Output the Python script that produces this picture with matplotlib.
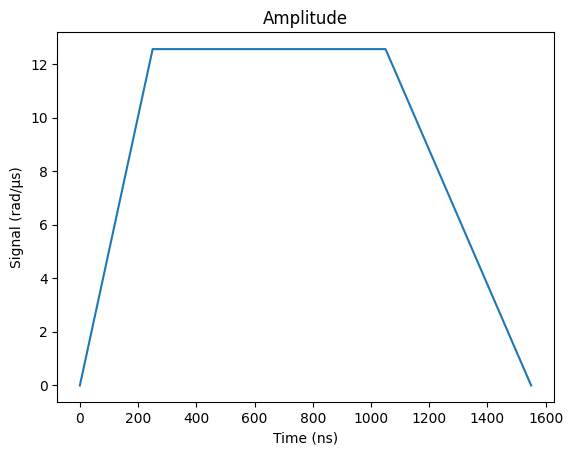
import numpy as np
import matplotlib
matplotlib.use("Agg")
import matplotlib.pyplot as plt

times = [0, 250, 1050, 1550]
amplitude = [0, 4 * np.pi, 4 * np.pi, 0]

fig = plt.figure(figsize=(5.72, 4.55), dpi=100)
ax = fig.add_axes([57.3 / 572, (455 - 402.3) / 455, (553.7 - 57.3) / 572, (402.3 - 32.3) / 455])
ax.plot(times, amplitude)
ax.set_title("Amplitude")
ax.set_xlabel("Time (ns)")
ax.set_ylabel("Signal (rad/µs)")
fig.savefig("out.png", dpi=100)
